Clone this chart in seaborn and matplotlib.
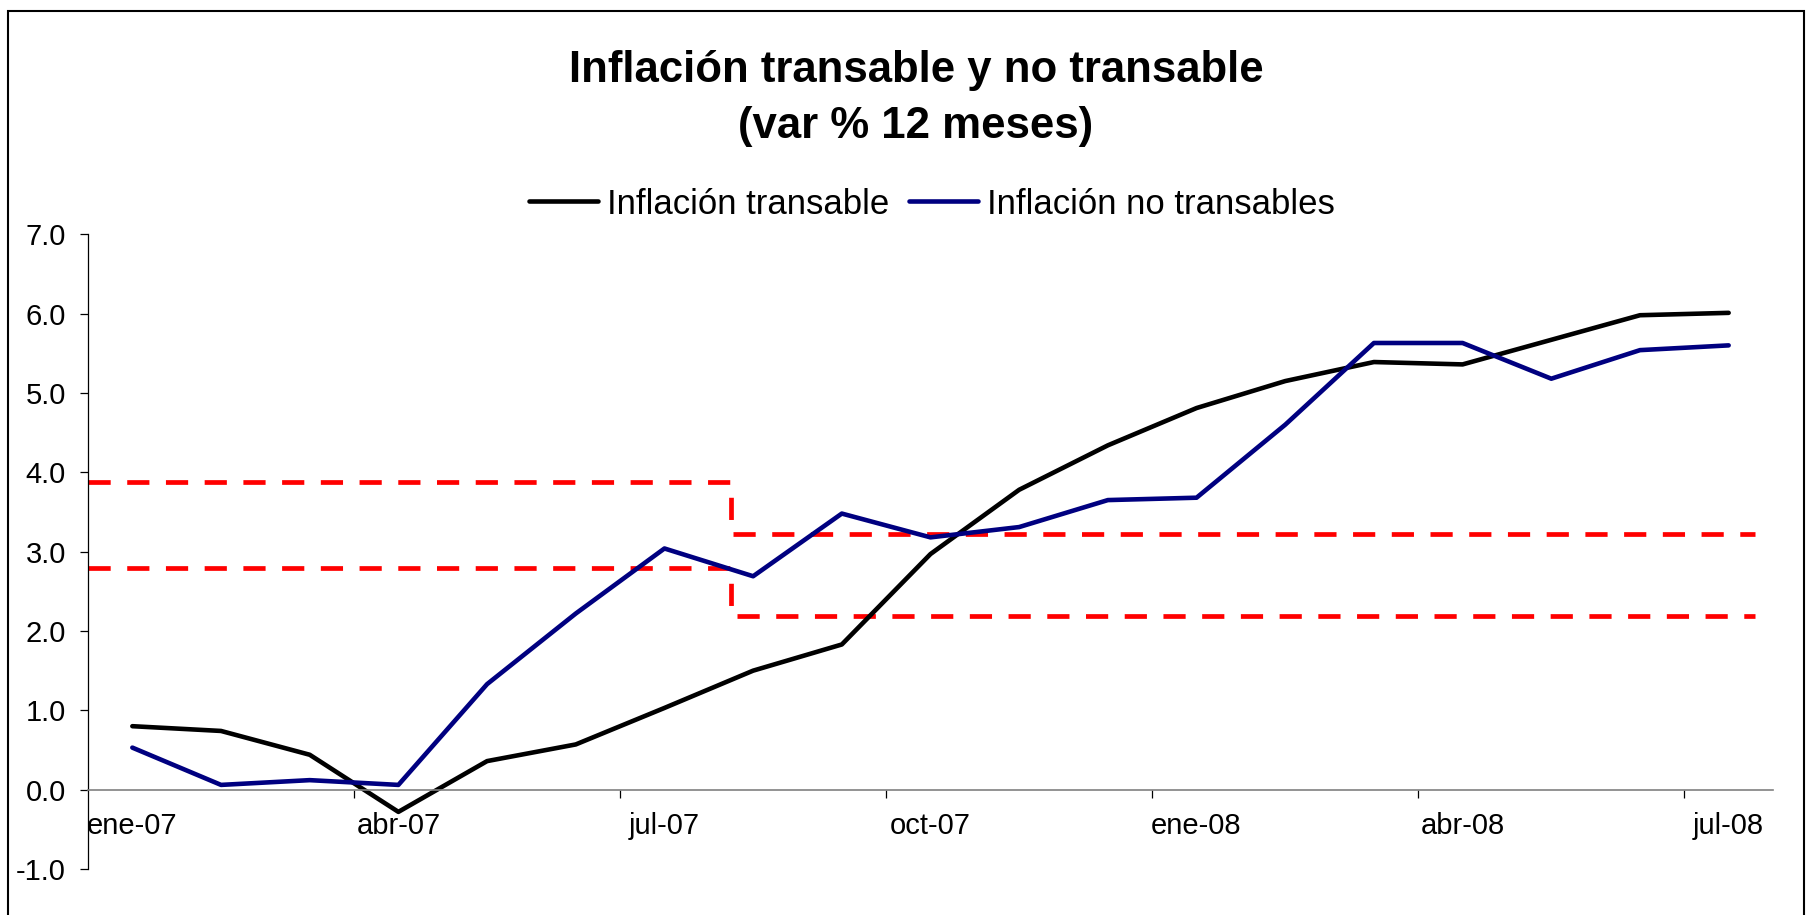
import matplotlib.pyplot as plt
import numpy as np
import pandas as pd
import seaborn as sns
from matplotlib.patches import Rectangle
from matplotlib.ticker import FormatStrFormatter

months = [
    "ene-07", "feb-07", "mar-07", "abr-07", "may-07", "jun-07", "jul-07",
    "ago-07", "sep-07", "oct-07", "nov-07", "dic-07", "ene-08", "feb-08",
    "mar-08", "abr-08", "may-08", "jun-08", "jul-08",
]
transable = [0.80, 0.74, 0.44, -0.28, 0.36, 0.57, 1.03, 1.50, 1.83, 2.97,
             3.78, 4.34, 4.81, 5.15, 5.39, 5.36, 5.67, 5.98, 6.01]
no_transable = [0.53, 0.06, 0.12, 0.06, 1.33, 2.22, 3.04, 2.69, 3.48, 3.18,
                3.31, 3.65, 3.68, 4.60, 5.63, 5.63, 5.18, 5.54, 5.60]

# rango meta (rojo punteado), cambia entre jul-07 y ago-07
band_x = [-0.5, 6.75, 18.3]
band_upper = [3.88, 3.22, 3.22]
band_lower = [2.80, 2.19, 2.19]

series_names = ["Inflación transable", "Inflación no transables"]

sns.set_style("ticks", rc={"text.color": "black", "xtick.color": "black",
                           "ytick.color": "black", "axes.labelcolor": "black"})
plt.rcParams["font.family"] = ["Liberation Sans", "DejaVu Sans"]
plt.rcParams["axes.unicode_minus"] = False

df = pd.DataFrame({
    "pos": np.arange(len(months)),
    series_names[0]: transable,
    series_names[1]: no_transable,
}).melt(id_vars="pos", var_name="serie", value_name="valor")

fig = plt.figure(figsize=(18.07, 9.15), dpi=100)
ax = fig.add_axes([88 / 1807, 1 - 869 / 915, (1773 - 88) / 1807, (869 - 234.3) / 915])

for yb in (band_upper, band_lower):
    sns.lineplot(x=band_x, y=yb, drawstyle="steps-post", color="#ff0000",
                 linewidth=3.4, linestyle=(0, (4.7, 3.5)), ax=ax, legend=False)

sns.lineplot(
    data=df, x="pos", y="valor", hue="serie", hue_order=series_names,
    palette={series_names[0]: "black", series_names[1]: "#000080"},
    linewidth=3.3, ax=ax, solid_joinstyle="round", solid_capstyle="round",
)

ax.set_xlim(-0.5, 18.5)
ax.set_ylim(-1, 7)
ax.set_xlabel("")
ax.set_ylabel("")

ax.spines[["top", "right"]].set_visible(False)
ax.spines["bottom"].set_position(("data", 0))
ax.spines["bottom"].set_color("#808080")
ax.spines["bottom"].set_linewidth(1.2)
ax.spines["left"].set_color("black")
ax.spines["left"].set_linewidth(0.9)

ax.set_xticks(np.arange(0, len(months), 3))
ax.set_xticklabels(months[::3])
ax.set_xticks(np.arange(2.5, len(months) - 1, 3), minor=True)
ax.tick_params(axis="x", which="major", length=0, pad=16, labelsize=21, colors="black")
ax.tick_params(axis="x", which="minor", length=5.8, width=0.9, direction="out", color="black")

ax.set_yticks(np.arange(-1, 8, 1))
ax.yaxis.set_major_formatter(FormatStrFormatter("%.1f"))
ax.tick_params(axis="y", length=5.8, width=0.9, direction="out", pad=10, labelsize=21, colors="black")

sns.move_legend(
    ax, loc="center", bbox_to_anchor=(932 / 1807, 1 - 204 / 915),
    bbox_transform=fig.transFigure, ncol=2, frameon=False, title=None,
    fontsize=25, handlelength=2.0, handletextpad=0.26, columnspacing=0.55,
)
for h in ax.get_legend().legend_handles:
    h.set_linewidth(3.3)
for t in ax.get_legend().get_texts():
    t.set_color("black")

fig.text(916 / 1807, 1 - 81.7 / 915, "Inflación transable y no transable",
         ha="center", va="baseline", fontsize=31.5, fontweight="bold", color="black")
fig.text(916 / 1807, 1 - 138 / 915, "(var % 12 meses)",
         ha="center", va="baseline", fontsize=31.5, fontweight="bold", color="black")

fig.patches.append(Rectangle((8 / 1807, -0.1), (1804 - 8) / 1807, 1.1 - 11 / 915,
                             transform=fig.transFigure, fill=False,
                             edgecolor="black", linewidth=1.5))

fig.savefig("out.png", dpi=100)
